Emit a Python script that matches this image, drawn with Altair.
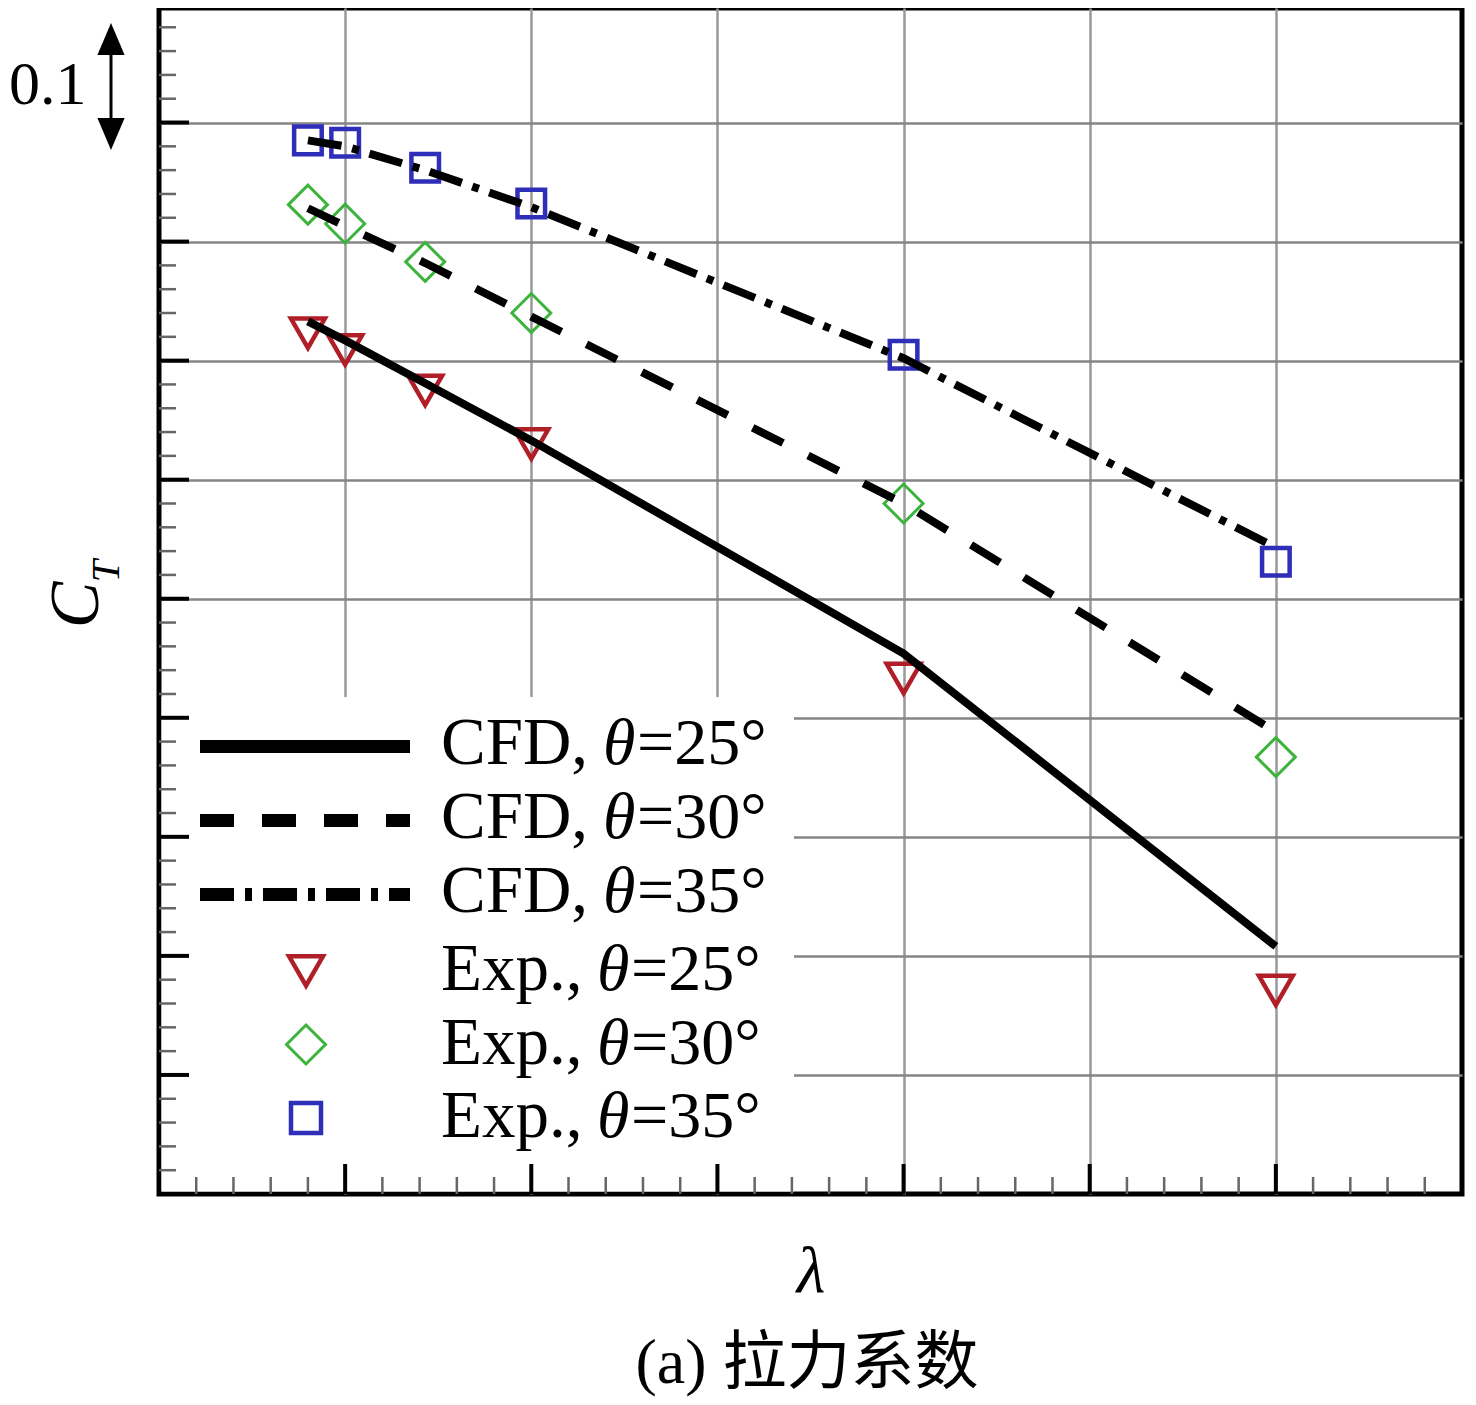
import altair as alt
import pandas as pd

# ---------------- data ----------------
lam = [0.8, 1.0, 1.43, 2.0, 4.0, 6.0]
cfd25 = [0.733, 0.717, 0.681, 0.633, 0.454, 0.208]
cfd30 = [0.828, 0.813, 0.782, 0.737, 0.580, 0.388]
cfd35 = [0.885, 0.880, 0.860, 0.829, 0.702, 0.543]
exp25 = [0.723, 0.709, 0.675, 0.630, 0.433, 0.171]
exp30 = [0.831, 0.815, 0.783, 0.740, 0.580, 0.367]
exp35 = [0.885, 0.883, 0.862, 0.832, 0.705, 0.531]

x_major = [1, 2, 3, 4, 5, 6]
x_minor = [round(i * 0.2, 1) for i in range(1, 35) if i % 5 != 0]
y_major = [0.1, 0.2, 0.3, 0.4, 0.5, 0.6, 0.7, 0.8, 0.9]
y_minor = [round(i * 0.02, 2) for i in range(1, 50) if i % 5 != 0]

legend_prefix = ["CFD, ", "CFD, ", "CFD, ", "Exp., ", "Exp., ", "Exp., "]
legend_suffix = ["=25°", "=30°", "=35°", "=25°", "=30°", "=35°"]
x_title = "λ"
y_title_main = "C"
y_title_sub = "T"
caption = "(a) 拉力系数"
scale_label = "0.1"

# ---------------- styling ----------------
W, H = 1303, 1186
RED, GREEN, BLUE = "#b01e28", "#3cb43c", "#2e2eb8"
FONT = "Liberation Serif"
DASH = [34, 28]
DASHDOT = [34, 11, 7, 11]

xs = alt.Scale(domain=[0, 7], nice=False, zero=False)
ys = alt.Scale(domain=[0, 0.9962], nice=False, zero=False)
xaxis = alt.Axis(values=x_major, grid=True, ticks=False, labels=False, domain=False,
                 title=None, gridColor="#999999", gridWidth=2.5)
yaxis = alt.Axis(values=y_major, grid=True, ticks=False, labels=False, domain=False,
                 title=None, gridColor="#858585", gridWidth=2.5)


def X(f):
    return alt.X(f, type="quantitative", scale=xs, axis=xaxis)


def Y(f):
    return alt.Y(f, type="quantitative", scale=ys, axis=yaxis)


def series_df(vals):
    return pd.DataFrame({"lam": lam, "ct": vals})


one = alt.Data(values=[{"a": 1}])
layers = []

# white legend box (covers gridlines, leaves the frame visible)
layers.append(alt.Chart(one).mark_rect(color="white", strokeWidth=0).encode(
    x=alt.value(2.5), x2=alt.value(635), y=alt.value(689), y2=alt.value(H - 2.5)))

# experimental markers
for vals, shape, col, size, sw in [
    (exp25, "triangle-down", RED, 1150, 4.5),
    (exp30, "diamond", GREEN, 1520, 3),
    (exp35, "square", BLUE, 760, 4.5),
]:
    layers.append(alt.Chart(series_df(vals)).mark_point(
        shape=shape, filled=False, size=size, strokeWidth=sw, color=col, opacity=1
    ).encode(x=X("lam"), y=Y("ct")))

# CFD lines
for vals, dash in [(cfd25, None), (cfd30, DASH), (cfd35, DASHDOT)]:
    kw = dict(color="black", strokeWidth=8, strokeCap="butt")
    if dash:
        kw["strokeDash"] = dash
    layers.append(alt.Chart(series_df(vals)).mark_line(**kw).encode(x=X("lam"), y=Y("ct")))

# ---------------- legend ----------------
base_rel = [756, 830, 904, 982, 1055.5, 1129]
for i in range(6):
    yb = base_rel[i]
    if i < 3:
        kw = dict(color="black", strokeWidth=13, strokeCap="butt")
        if i == 1:
            kw["strokeDash"] = DASH
        if i == 2:
            kw["strokeDash"] = DASHDOT
        layers.append(alt.Chart(one).mark_rule(**kw).encode(
            x=alt.value(41), x2=alt.value(251), y=alt.value(yb - 17.5)))
        th_x, eq_x = 444, 478
    else:
        shape, col, size, sw = [("triangle-down", RED, 1150, 4.5),
                                ("diamond", GREEN, 1520, 3),
                                ("square", BLUE, 900, 4.5)][i - 3]
        layers.append(alt.Chart(one).mark_point(
            shape=shape, filled=False, size=size, strokeWidth=sw, color=col, opacity=1
        ).encode(x=alt.value(147), y=alt.value(yb - 19)))
        th_x, eq_x = 438, 472
    layers.append(alt.Chart(one).mark_text(
        text=legend_prefix[i], font=FONT, fontSize=67, align="left", baseline="alphabetic",
        color="black").encode(x=alt.value(282), y=alt.value(yb)))
    layers.append(alt.Chart(one).mark_text(
        text="θ", font=FONT, fontSize=66, fontStyle="italic", align="left",
        baseline="alphabetic", color="black").encode(x=alt.value(th_x), y=alt.value(yb)))
    layers.append(alt.Chart(one).mark_text(
        text=legend_suffix[i], font=FONT, fontSize=66, align="left", baseline="alphabetic",
        color="black").encode(x=alt.value(eq_x), y=alt.value(yb)))

# ---------------- inward ticks ----------------
layers.append(alt.Chart(pd.DataFrame({"v": x_minor})).mark_rule(color="#666666", strokeWidth=2.5)
              .encode(x=X("v"), y=alt.value(H), y2=alt.value(H - 17)))
layers.append(alt.Chart(pd.DataFrame({"v": x_major})).mark_rule(color="black", strokeWidth=4)
              .encode(x=X("v"), y=alt.value(H), y2=alt.value(H - 30)))
layers.append(alt.Chart(pd.DataFrame({"v": y_minor})).mark_rule(color="#666666", strokeWidth=2.5)
              .encode(y=Y("v"), x=alt.value(0), x2=alt.value(17)))
layers.append(alt.Chart(pd.DataFrame({"v": y_major})).mark_rule(color="black", strokeWidth=4)
              .encode(y=Y("v"), x=alt.value(0), x2=alt.value(30)))

# ---------------- titles & annotations ----------------
layers.append(alt.Chart(one).mark_text(
    text=x_title, font=FONT, fontSize=66, fontStyle="italic", align="center",
    baseline="alphabetic", color="black").encode(x=alt.value(652), y=alt.value(1284)))
layers.append(alt.Chart(one).mark_text(
    text=y_title_main, font=FONT, fontSize=70, fontStyle="italic", align="center",
    baseline="alphabetic", angle=270, color="black").encode(x=alt.value(-61), y=alt.value(597)))
layers.append(alt.Chart(one).mark_text(
    text=y_title_sub, font=FONT, fontSize=40, fontStyle="italic", align="center",
    baseline="alphabetic", angle=270, color="black").encode(x=alt.value(-40), y=alt.value(563)))
layers.append(alt.Chart(one).mark_text(
    text=caption, font=FONT + ", Noto Sans CJK SC", fontSize=64, align="center",
    baseline="alphabetic", color="black").encode(x=alt.value(648), y=alt.value(1375)))
layers.append(alt.Chart(one).mark_text(
    text=scale_label, font=FONT, fontSize=62, align="left",
    baseline="alphabetic", color="black").encode(x=alt.value(-150), y=alt.value(96)))
# double arrow indicating 0.1
layers.append(alt.Chart(one).mark_rule(color="black", strokeWidth=3).encode(
    x=alt.value(-48), y=alt.value(35), y2=alt.value(122)))
layers.append(alt.Chart(one).mark_point(
    shape="M0,-1L0.85,1L-0.85,1Z", size=1024, filled=True, color="black", opacity=1,
    strokeWidth=0).encode(x=alt.value(-48), y=alt.value(31)))
layers.append(alt.Chart(one).mark_point(
    shape="M0,1L0.85,-1L-0.85,-1Z", size=1024, filled=True, color="black", opacity=1,
    strokeWidth=0).encode(x=alt.value(-48), y=alt.value(126)))

chart = alt.layer(*layers).properties(
    width=W, height=H,
    autosize=alt.AutoSizeParams(type="none"),
    padding={"left": 151, "top": 0, "right": 6, "bottom": 206},
).configure(background="white").configure_view(stroke="black", strokeWidth=5)

chart.save("out.html", embed_options={"renderer": "svg", "actions": False})
